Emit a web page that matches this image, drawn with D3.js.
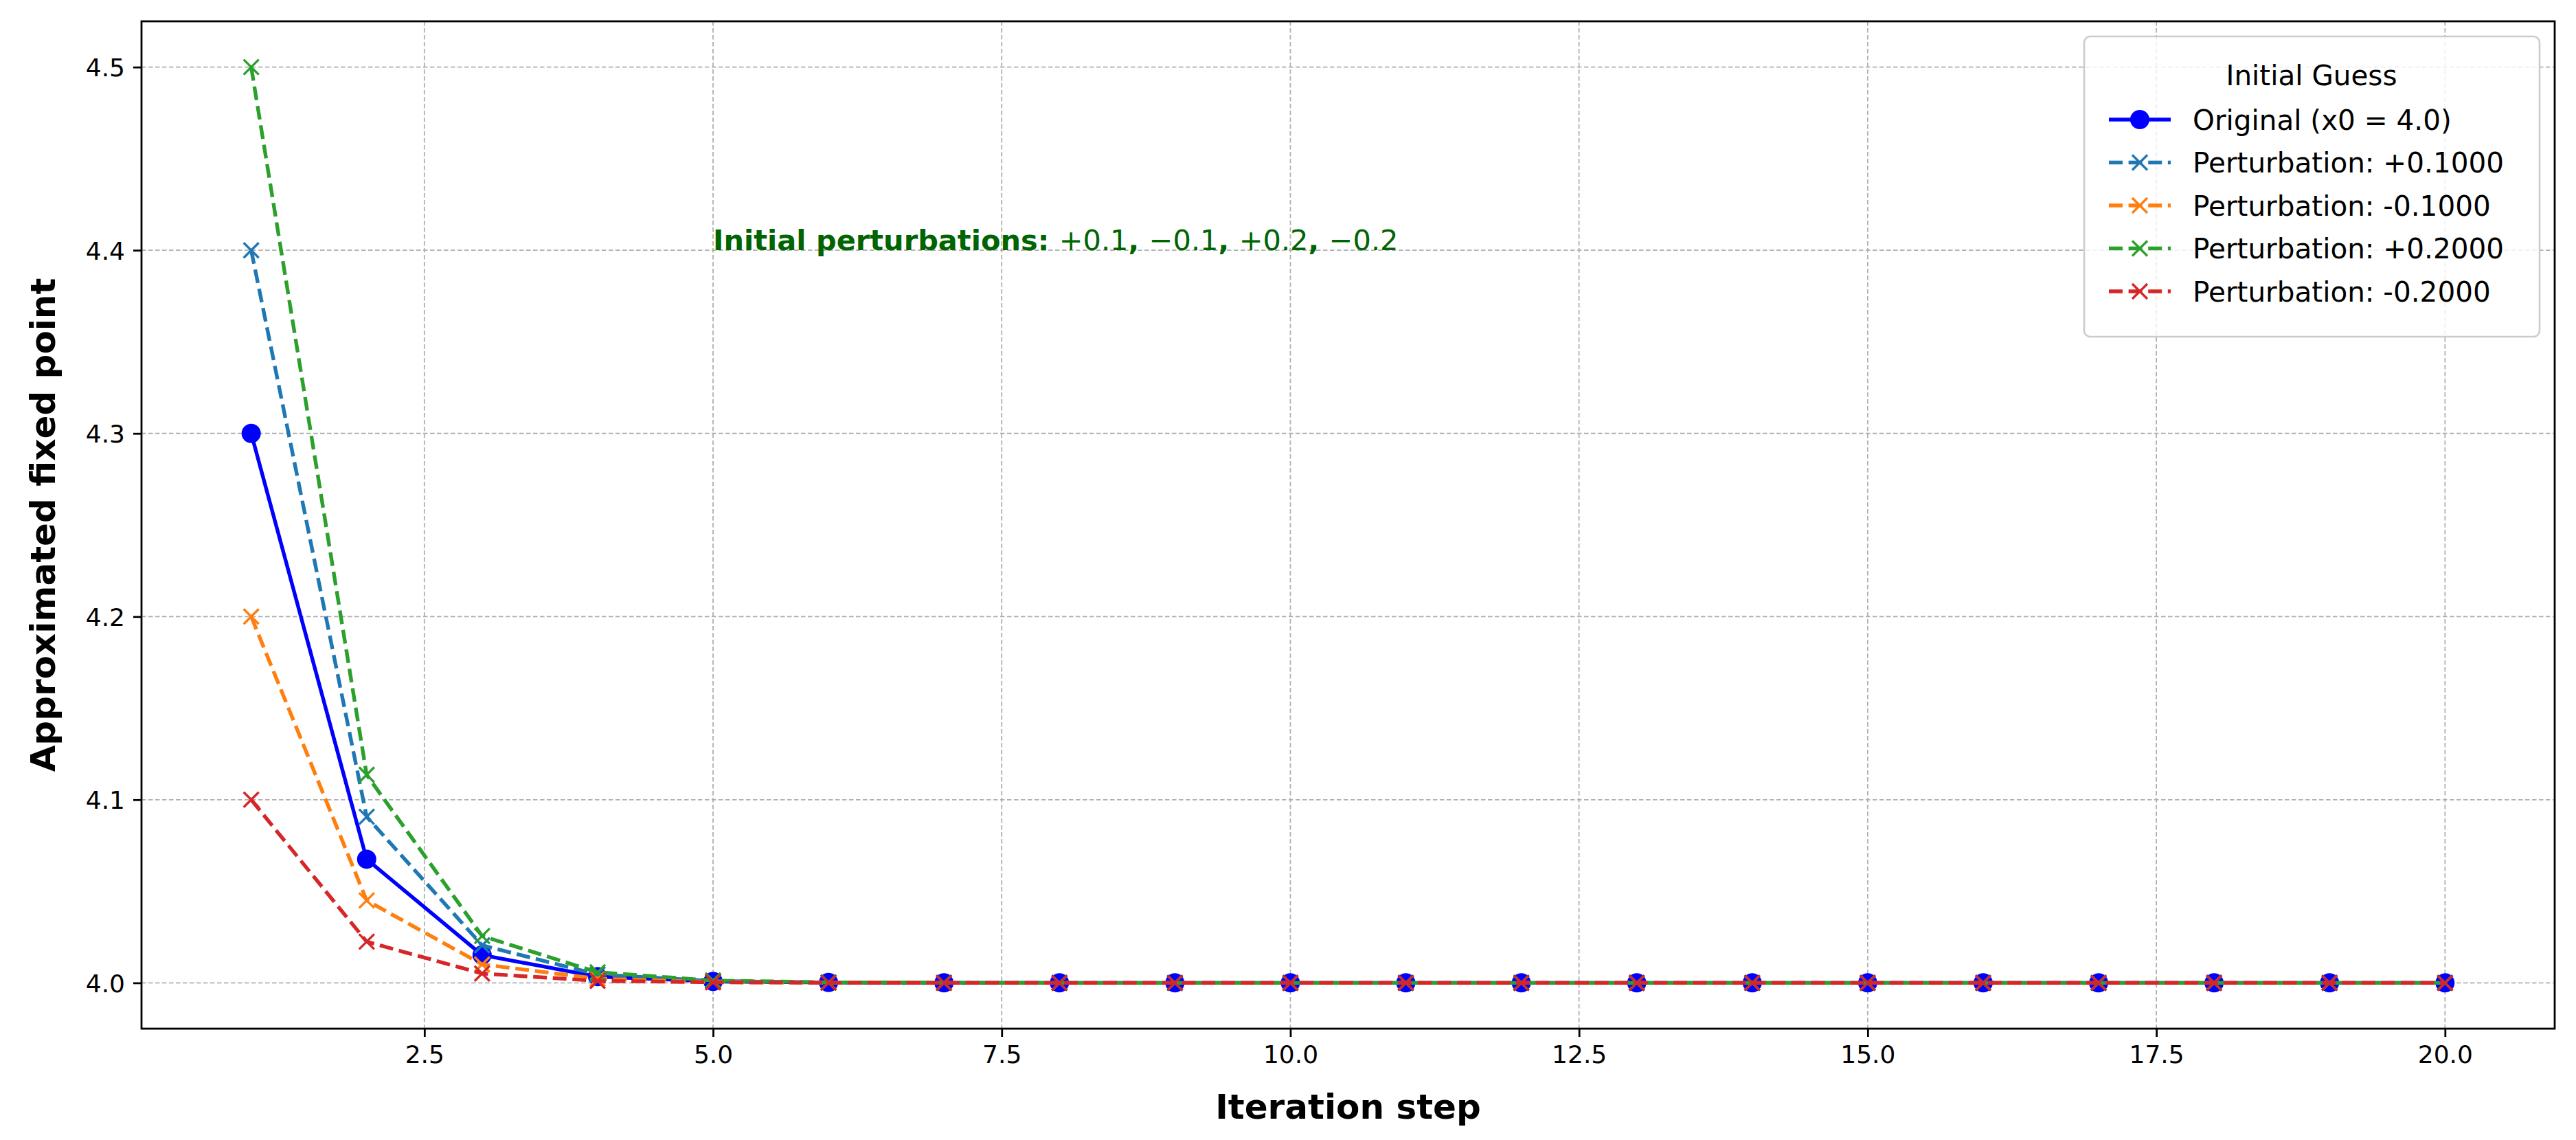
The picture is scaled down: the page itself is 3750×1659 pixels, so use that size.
<!DOCTYPE html>
<html>
<head>
<meta charset="utf-8">
<script src="https://cdn.jsdelivr.net/npm/d3@7/dist/d3.min.js"></script>
<style>
  html, body { margin: 0; padding: 0; background: #fff; }
  svg { display: block; font-family: "DejaVu Sans", sans-serif; }
</style>
</head>
<body>
<svg id="chart" width="3750" height="1659"></svg>
<script>
// ---------- data ----------
const steps = [1, 2, 3, 4, 5, 6, 7, 8, 9, 10, 11, 12, 13, 14, 15, 16, 17, 18, 19, 20];
const original   = [4.3, 4.0675, 4.0152, 4.0034, 4.0008, 4.0002, 4.0000, 4.0, 4.0, 4.0, 4.0, 4.0, 4.0, 4.0, 4.0, 4.0, 4.0, 4.0, 4.0, 4.0];
const pertPlus01 = [4.4, 4.0907, 4.0205, 4.0046, 4.0010, 4.0002, 4.0001, 4.0, 4.0, 4.0, 4.0, 4.0, 4.0, 4.0, 4.0, 4.0, 4.0, 4.0, 4.0, 4.0];
const pertMinus01 = [4.2, 4.0450, 4.0101, 4.0023, 4.0005, 4.0001, 4.0000, 4.0, 4.0, 4.0, 4.0, 4.0, 4.0, 4.0, 4.0, 4.0, 4.0, 4.0, 4.0, 4.0];
const pertPlus02 = [4.5, 4.1136, 4.0256, 4.0058, 4.0013, 4.0003, 4.0001, 4.0, 4.0, 4.0, 4.0, 4.0, 4.0, 4.0, 4.0, 4.0, 4.0, 4.0, 4.0, 4.0];
const pertMinus02 = [4.1, 4.0225, 4.0051, 4.0011, 4.0003, 4.0001, 4.0000, 4.0, 4.0, 4.0, 4.0, 4.0, 4.0, 4.0, 4.0, 4.0, 4.0, 4.0, 4.0, 4.0];
const seriesLabels = ["Original (x0 = 4.0)", "Perturbation: +0.1000", "Perturbation: -0.1000", "Perturbation: +0.2000", "Perturbation: -0.2000"];
const xTicks = [2.5, 5.0, 7.5, 10.0, 12.5, 15.0, 17.5, 20.0];
const yTicks = [4.0, 4.1, 4.2, 4.3, 4.4, 4.5];
const legendTitle = "Initial Guess";
const xLabel = "Iteration step";
const yLabel = "Approximated fixed point";
const noteBold = "Initial perturbations:";
const noteValues = ["+0.1", "\u22120.1", "+0.2", "\u22120.2"];
const noteX = 5.0, noteY = 4.4;

// ---------- styles ----------
const seriesData = [original, pertPlus01, pertMinus01, pertPlus02, pertMinus02];
const seriesColors = ["#0000ff", "#1f77b4", "#ff7f0e", "#2ca02c", "#d62728"];
const seriesMarkers = ["circle", "x", "x", "x", "x"];
const seriesDashed = [false, true, true, true, true];

const L = 206, R = 3719, T = 31, B = 1497;
const lw = 5.4;
const svg = d3.select("#chart");

const x = d3.scaleLinear().domain([0.05, 20.95]).range([L, R]);
const y = d3.scaleLinear().domain([3.975, 4.525]).range([B, T]);

// grid
const grid = svg.append("g");
grid.selectAll(".gx").data(xTicks).join("line")
  .attr("x1", d => x(d)).attr("x2", d => x(d)).attr("y1", T).attr("y2", B)
  .attr("stroke", "#b0b0b0").attr("stroke-width", 1.8).attr("stroke-dasharray", "6.5,3.5");
grid.selectAll(".gy").data(yTicks).join("line")
  .attr("x1", L).attr("x2", R).attr("y1", d => y(d)).attr("y2", d => y(d))
  .attr("stroke", "#b0b0b0").attr("stroke-width", 1.8).attr("stroke-dasharray", "6.5,3.5");

// lines
const lineGen = d3.line().x((d, i) => x(steps[i])).y(d => y(d));
const plot = svg.append("g");
function drawMarker(g, type, cx, cy, color) {
  if (type === "circle") {
    g.append("circle").attr("cx", cx).attr("cy", cy).attr("r", 14).attr("fill", color);
  } else {
    const s = 11;
    g.append("path")
      .attr("d", `M${cx - s},${cy - s}L${cx + s},${cy + s}M${cx - s},${cy + s}L${cx + s},${cy - s}`)
      .attr("stroke", color).attr("stroke-width", 3.4).attr("fill", "none");
  }
}
seriesData.forEach((vals, k) => {
  const g = plot.append("g");
  g.append("path").datum(vals).attr("d", lineGen)
    .attr("fill", "none").attr("stroke", seriesColors[k]).attr("stroke-width", lw)
    .attr("stroke-linejoin", "round")
    .attr("stroke-dasharray", seriesDashed[k] ? `${3.7 * lw},${1.6 * lw}` : null);
  vals.forEach((v, i) => drawMarker(g, seriesMarkers[k], x(steps[i]), y(v), seriesColors[k]));
});

// axes
const xAxis = d3.axisBottom(x).tickValues(xTicks).tickFormat(d3.format(".1f")).tickSize(12).tickPadding(12);
const yAxis = d3.axisLeft(y).tickValues(yTicks).tickFormat(d3.format(".1f")).tickSize(12).tickPadding(12);
const gx = svg.append("g").attr("transform", `translate(0,${B})`).call(xAxis);
const gy = svg.append("g").attr("transform", `translate(${L},0)`).call(yAxis);
[gx, gy].forEach(g => {
  g.select(".domain").remove();
  g.selectAll(".tick line").attr("stroke", "#000").attr("stroke-width", 2.8);
  g.selectAll(".tick text").attr("fill", "#000").attr("font-size", 36)
    .attr("font-family", "DejaVu Sans");
});
gx.selectAll(".tick text").attr("dy", "0.71em");
gy.selectAll(".tick text").attr("dy", "0.36em");

// frame
svg.append("rect").attr("x", L).attr("y", T).attr("width", R - L).attr("height", B - T)
  .attr("fill", "none").attr("stroke", "#000").attr("stroke-width", 2.8);

// axis labels
svg.append("text").attr("x", (L + R) / 2).attr("y", 1628)
  .attr("text-anchor", "middle").attr("font-size", 50).attr("font-weight", "bold")
  .attr("fill", "#000").text(xLabel);
svg.append("text").attr("transform", `translate(80,${(T + B) / 2}) rotate(-90)`)
  .attr("text-anchor", "middle").attr("font-size", 50).attr("font-weight", "bold")
  .attr("fill", "#000").text(yLabel);

// annotation
const note = svg.append("text").attr("x", x(noteX)).attr("y", y(noteY))
  .attr("font-size", 41.5).attr("fill", "#006400");
note.append("tspan").attr("font-weight", "bold").text(noteBold + " ");
noteValues.forEach((v, i) => {
  note.append("tspan").text(v);
  if (i < noteValues.length - 1) note.append("tspan").attr("font-weight", "bold").text(", ");
});

// legend
const lg = svg.append("g");
lg.append("rect").attr("x", 3034).attr("y", 53).attr("width", 663).attr("height", 437)
  .attr("rx", 9).attr("fill", "#fff").attr("fill-opacity", 0.8)
  .attr("stroke", "#cccccc").attr("stroke-width", 2.6);
lg.append("text").attr("x", 3365).attr("y", 124).attr("text-anchor", "middle")
  .attr("font-size", 40.5).attr("fill", "#000").text(legendTitle);
seriesLabels.forEach((lab, k) => {
  const cy = 174 + k * 62.5;
  lg.append("line").attr("x1", 3070).attr("x2", 3160).attr("y1", cy).attr("y2", cy)
    .attr("stroke", seriesColors[k]).attr("stroke-width", lw)
    .attr("stroke-dasharray", seriesDashed[k] ? `${3.7 * lw},${1.6 * lw}` : null);
  drawMarker(lg, seriesMarkers[k], 3115, cy, seriesColors[k]);
  lg.append("text").attr("x", 3192).attr("y", cy).attr("dy", "0.36em")
    .attr("font-size", 40.5).attr("fill", "#000").text(lab);
});
</script>
</body>
</html>
